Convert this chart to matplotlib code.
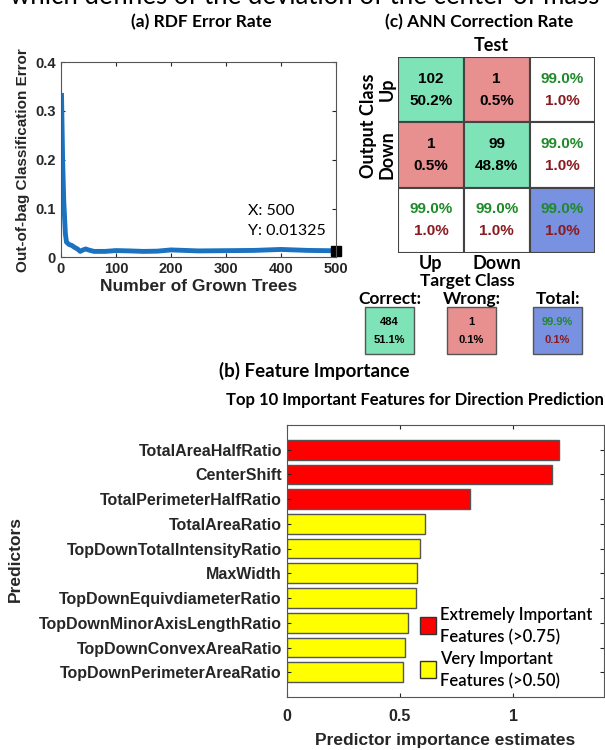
import matplotlib.pyplot as plt
from matplotlib.patches import Rectangle
import numpy as np

# (a) out-of-bag error vs number of grown trees (sampled from the curve)
trees = [1, 3, 5, 8, 10, 15, 20, 25, 30, 35, 40, 45, 50, 60, 80, 100, 125, 150,
         175, 200, 250, 300, 350, 400, 450, 500]
oob_error = [0.332, 0.20, 0.116, 0.048, 0.031, 0.026, 0.024, 0.020, 0.017, 0.012,
             0.015, 0.017, 0.015, 0.012, 0.012, 0.0137, 0.013, 0.012,
             0.0125, 0.015, 0.013, 0.0135, 0.014, 0.016, 0.014, 0.01325]

# (c) confusion matrix
counts = [[102, 1], [1, 99]]
pcts = [[50.2, 0.5], [0.5, 48.8]]
row_ok = [99.0, 99.0]
col_ok = [99.0, 99.0]
total_ok = 99.0
class_names = ["Up", "Down"]
summary_titles = ["Correct:", "Wrong:", "Total:"]
summary_top = ["484", "1", "99.9%"]
summary_bottom = ["51.1%", "0.1%", "0.1%"]

# (b) feature importance
features = ["TotalAreaHalfRatio", "CenterShift", "TotalPerimeterHalfRatio",
            "TotalAreaRatio", "TopDownTotalIntensityRatio", "MaxWidth",
            "TopDownEquivdiameterRatio", "TopDownMinorAxisLengthRatio",
            "TopDownConvexAreaRatio", "TopDownPerimeterAreaRatio"]
importance = [1.20, 1.17, 0.81, 0.61, 0.59, 0.575, 0.57, 0.535, 0.52, 0.515]

GREEN = "#7ee3b6"
RED = "#e89090"
BLUE = "#7891e0"
TXT_GREEN = "#1e8a2a"
TXT_RED = "#8a1a22"
AX_TXT = "#262626"
CAL = "Lato"
HEL = "Liberation Sans"

fig = plt.figure(figsize=(6.05, 7.5), dpi=100)

# cut-off line of text from the surrounding page
fig.text(0.016, 1 - 4 / 750, "which defines of the deviation of the center of mass",
         fontsize=18.5, family=CAL, va="baseline", ha="left", color="black")

# ---------- (a) ----------
ax = fig.add_axes([0.1008, 0.657, 0.4545, 0.26])
ax.plot(trees, oob_error, color="#1a72c0", lw=3.5, solid_joinstyle="round")
ax.plot([500], [0.01325], "s", color="black", ms=7, clip_on=False)
ax.set_xlim(0, 500)
ax.set_ylim(0, 0.4)
ax.set_xticks([0, 100, 200, 300, 400, 500])
ax.set_yticks([0, 0.1, 0.2, 0.3, 0.4])
ax.set_yticklabels(["0", "0.1", "0.2", "0.3", "0.4"])
ax.tick_params(direction="in", top=True, right=True, length=3, colors=AX_TXT,
               labelsize=10.5)
for lab in ax.get_xticklabels() + ax.get_yticklabels():
    lab.set_fontweight("bold")
    lab.set_family(HEL)
ax.set_xlabel("Number of Grown Trees", fontsize=12.5, fontweight="bold",
              family=HEL, color=AX_TXT, labelpad=2)
ax.set_ylabel("Out-of-bag Classification Error", fontsize=11, fontweight="bold",
              family=HEL, color=AX_TXT, labelpad=4)
for s in ax.spines.values():
    s.set_color("#555555")
ax.text(340, 0.094, "X: 500", fontsize=11.5, family=CAL, va="center")
ax.text(340, 0.053, "Y: 0.01325", fontsize=11.5, family=CAL, va="center")
fig.text(0.332, 0.971, "(a) RDF Error Rate", fontsize=12.5, family=CAL,
         fontweight="bold", ha="center", va="center")

# ---------- (c) ----------
cx = fig.add_axes([0.658, 0.663, 0.326, 0.261])
cx.set_xlim(0, 3)
cx.set_ylim(3, 0)
cx.axis("off")
for i in range(3):
    for j in range(3):
        if i < 2 and j < 2:
            fc = GREEN if i == j else RED
        elif i == 2 and j == 2:
            fc = BLUE
        else:
            fc = "white"
        cx.add_patch(Rectangle((j, i), 1, 1, facecolor=fc, edgecolor="#444444", lw=1.5))
        if i < 2 and j < 2:
            cx.text(j + 0.5, i + 0.33, str(counts[i][j]), ha="center", va="center",
                    fontsize=11, fontweight="bold", family=HEL, color="black")
            cx.text(j + 0.5, i + 0.67, f"{pcts[i][j]:.1f}%", ha="center", va="center",
                    fontsize=11, fontweight="bold", family=HEL, color="black")
        else:
            if i == 2 and j == 2:
                ok = total_ok
            elif j == 2:
                ok = row_ok[i]
            else:
                ok = col_ok[j]
            cx.text(j + 0.5, i + 0.33, f"{ok:.1f}%", ha="center", va="center",
                    fontsize=11, fontweight="bold", family=HEL, color=TXT_GREEN)
            cx.text(j + 0.5, i + 0.67, f"{100 - ok:.1f}%", ha="center", va="center",
                    fontsize=11, fontweight="bold", family=HEL, color=TXT_RED)
for k, name in enumerate(class_names):
    cx.text(-0.17, k + 0.5, name, rotation=90, ha="center", va="center",
            fontsize=13, fontweight="bold", family=CAL)
    cx.text(k + 0.5, 3.16, name, ha="center", va="center",
            fontsize=13, fontweight="bold", family=CAL)
cx.text(-0.45, 1.05, "Output Class", rotation=90, ha="center", va="center",
        fontsize=13, fontweight="bold", family=CAL)
cx.text(1.05, 3.43, "Target Class", ha="center", va="center",
        fontsize=12.5, fontweight="bold", family=CAL)
cx.text(1.42, -0.18, "Test", ha="center", va="center",
        fontsize=13, fontweight="bold", family=CAL)
fig.text(0.792, 0.971, "(c) ANN Correction Rate", fontsize=12.5, family=CAL,
         fontweight="bold", ha="center", va="center")

# summary boxes below the matrix
box_x = [365, 447, 533]
box_c = [GREEN, RED, BLUE]
box_w, box_h = 49, 47
for k in range(3):
    x0 = box_x[k] / 605
    y0 = 1 - 354 / 750
    fig.patches.append(Rectangle((x0, y0), box_w / 605, box_h / 750,
                                 transform=fig.transFigure, facecolor=box_c[k],
                                 edgecolor="#555555", lw=1))
    xc = (box_x[k] + box_w / 2) / 605
    fig.text(xc, 1 - 299 / 750, summary_titles[k], ha="center", va="center",
             fontsize=12.5, fontweight="bold", family=CAL)
    top_col = TXT_GREEN if k == 2 else "black"
    bot_col = TXT_RED if k == 2 else "black"
    fig.text(xc, 1 - 322 / 750, summary_top[k], ha="center", va="center",
             fontsize=8, fontweight="bold", family=HEL, color=top_col)
    fig.text(xc, 1 - 340 / 750, summary_bottom[k], ha="center", va="center",
             fontsize=8, fontweight="bold", family=HEL, color=bot_col)

# ---------- (b) ----------
bx = fig.add_axes([0.474, 0.0707, 0.524, 0.3627])
pos = np.arange(len(features), 0, -1)
colors = ["#ff0000" if v > 0.75 else "#ffff00" for v in importance]
bx.barh(pos, importance, height=0.8, color=colors, edgecolor="#555555", lw=1)
bx.set_xlim(0, 1.4)
bx.set_ylim(0, 11)
bx.set_yticks(pos)
bx.set_yticklabels(features)
bx.set_xticks([0, 0.5, 1])
bx.set_xticklabels(["0", "0.5", "1"])
bx.tick_params(direction="in", top=True, right=True, length=3, colors=AX_TXT,
               labelsize=11.5)
bx.tick_params(axis="x", pad=9)
for lab in bx.get_xticklabels() + bx.get_yticklabels():
    lab.set_fontweight("bold")
    lab.set_family(HEL)
for s in bx.spines.values():
    s.set_color("#555555")
bx.set_xlabel("Predictor importance estimates", fontsize=12.5, fontweight="bold",
              family=HEL, color=AX_TXT, labelpad=6)
fig.text(0.025, 0.255, "Predictors", rotation=90, fontsize=12.5, fontweight="bold",
         family=HEL, color=AX_TXT, ha="center", va="center")

# legend drawn as patches and text
for k, (fc, l1, l2) in enumerate([("#ff0000", "Extremely Important", "Features (>0.75)"),
                                  ("#ffff00", "Very Important", "Features (>0.50)")]):
    yc = [626, 670][k]
    fig.patches.append(Rectangle((420 / 605, 1 - (yc + 8) / 750), 16 / 605, 17 / 750,
                                 transform=fig.transFigure, facecolor=fc,
                                 edgecolor="#333333", lw=1))
    fig.text(440 / 605, 1 - (yc - 11) / 750, l1, fontsize=12, family=CAL,
             fontweight="semibold", va="center")
    fig.text(440 / 605, 1 - (yc + 11) / 750, l2, fontsize=12, family=CAL,
             fontweight="semibold", va="center")

fig.text(0.519, 0.505, "(b) Feature Importance", fontsize=13.5, family=CAL,
         fontweight="bold", ha="center", va="center")
fig.text(0.686, 0.466, "Top 10 Important Features for Direction Prediction",
         fontsize=12, family=CAL, fontweight="bold", ha="center", va="center")

fig.savefig("out.png", dpi=100)
